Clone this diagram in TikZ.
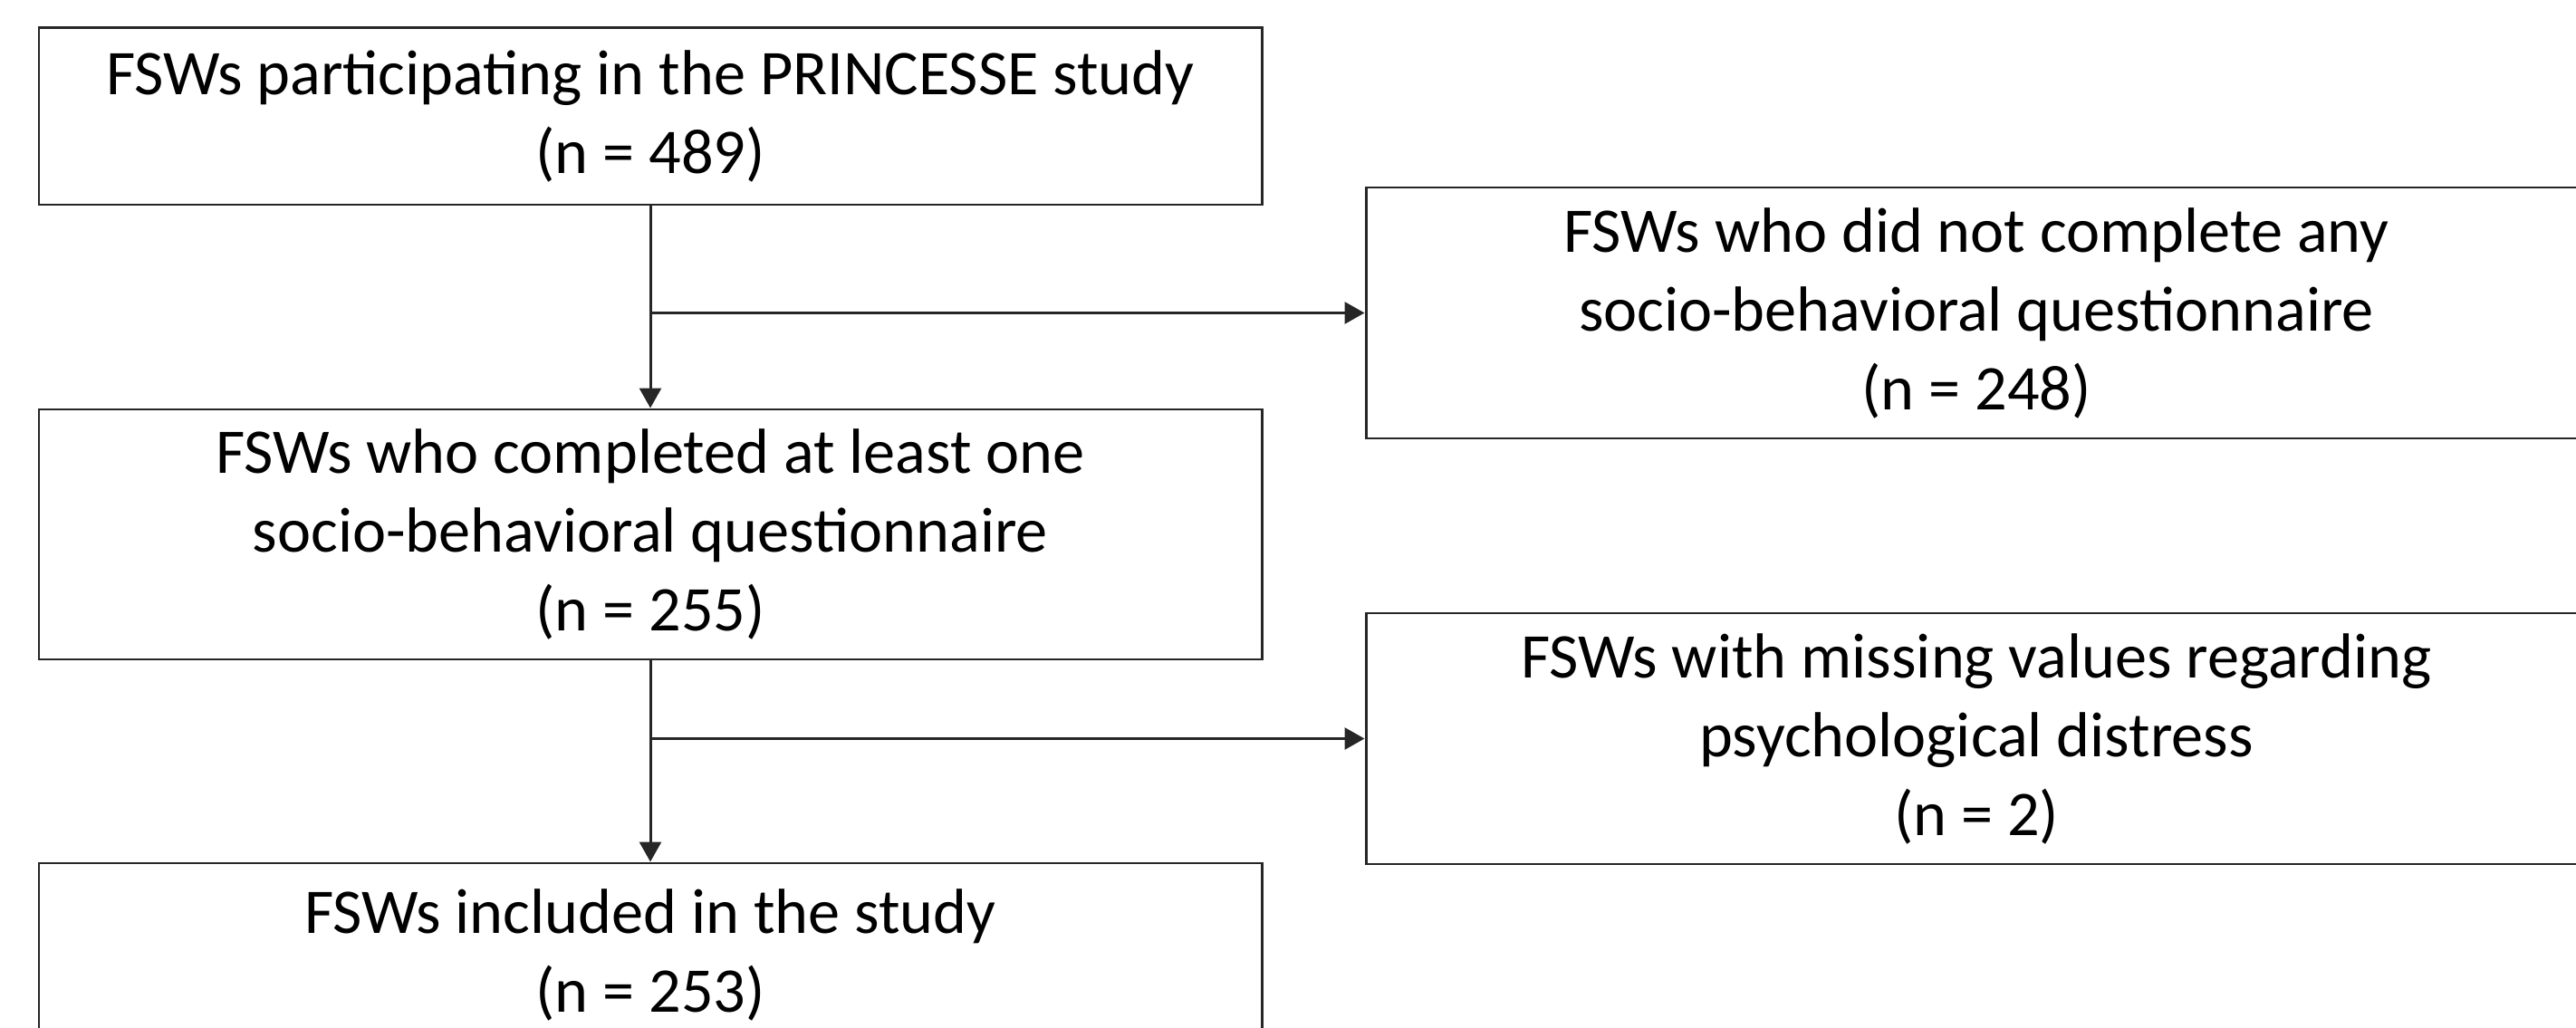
\documentclass[tikz,border=0pt]{standalone}
\usepackage{fontspec}
\setmainfont{Carlito}
\usepackage{tikz}
\usetikzlibrary{arrows.meta}

\tikzset{
  flowbox/.style={draw=black!85, line width=0.85pt, align=center,
    inner sep=0pt, minimum width=13.5cm,
    font=\fontsize{20}{24.75}\selectfont},
  flowarrow/.style={draw=black!85, line width=0.85pt,
    -{Triangle[length=0.22cm,width=0.24cm]}}
}

\begin{document}
\begin{tikzpicture}
\useasboundingbox (0,0) rectangle (28.44,11.34);
\clip (0,0) rectangle (28.44,11.34);

\node[flowbox, minimum height=1.95cm] (part) at (7.18,10.055)
  {FSWs participating in the PRINCESSE study\\(n = 489)};
\node[flowbox, minimum width=13.48cm, minimum height=2.77cm] (noquest) at (21.82,7.885)
  {FSWs who did not complete any\\socio-behavioral questionnaire\\(n = 248)};
\node[flowbox, minimum height=2.76cm] (quest) at (7.18,5.44)
  {FSWs who completed at least one\\socio-behavioral questionnaire\\(n = 255)};
\node[flowbox, minimum width=13.48cm, minimum height=2.77cm] (missing) at (21.82,3.185)
  {FSWs with missing values regarding\\psychological distress\\(n = 2)};
\node[flowbox, minimum height=2.02cm] (incl) at (7.18,0.80)
  {FSWs included in the study\\(n = 253)};

\draw[flowarrow] (part) -- (quest);
\draw[flowarrow] (part.south |- noquest.west) -- (noquest.west);
\draw[flowarrow] (quest) -- (incl);
\draw[flowarrow] (quest.south |- missing.west) -- (missing.west);
\end{tikzpicture}
\end{document}
